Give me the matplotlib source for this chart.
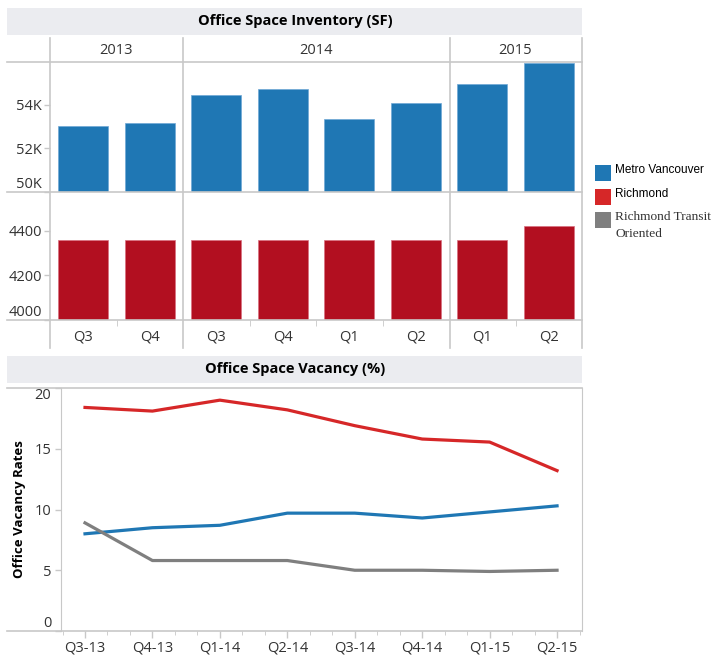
import matplotlib
matplotlib.use("Agg")
import matplotlib.pyplot as plt
from matplotlib.lines import Line2D
from matplotlib.patches import Rectangle

# data
quarters = ["Q3", "Q4", "Q3", "Q4", "Q1", "Q2", "Q1", "Q2"]
years = ["2013", "2014", "2015"]
year_sizes = [2, 4, 2]
metro_inventory = [53000, 53170, 54440, 54700, 53330, 54060, 54940, 55900]
richmond_inventory = [4360, 4360, 4360, 4360, 4360, 4360, 4360, 4420]

periods = ["Q3-13", "Q4-13", "Q1-14", "Q2-14", "Q3-14", "Q4-14", "Q1-15", "Q2-15"]
metro_vacancy = [8.0, 8.5, 8.7, 9.7, 9.7, 9.3, 9.8, 10.3]
richmond_vacancy = [18.4, 18.1, 19.0, 18.2, 16.9, 15.8, 15.55, 13.2]
transit_vacancy = [8.9, 5.8, 5.8, 5.8, 5.0, 5.0, 4.9, 5.0]

BLUE = "#1f77b4"
RED_BAR = "#b20f20"
RED = "#d62728"
GRAY = "#7f7f7f"
LINE = "#c8c8c8"
TXT = "#333333"
BAND = "#ebecf0"

W, H = 714, 658
plt.rcParams["font.family"] = ["Open Sans", "DejaVu Sans"]
fig = plt.figure(figsize=(W / 100, H / 100), dpi=100)


def rect(x0, y0, x1, y1):
    return [x0 / W, 1 - y1 / H, (x1 - x0) / W, (y1 - y0) / H]


def hline(y, x0, x1):
    fig.add_artist(Line2D([x0 / W, x1 / W], [1 - y / H, 1 - y / H], color=LINE, lw=1.2))


def vline(x, y0, y1):
    fig.add_artist(Line2D([x / W, x / W], [1 - y0 / H, 1 - y1 / H], color=LINE, lw=1.2))


def band(y0, y1, title):
    fig.add_artist(Rectangle((7 / W, 1 - y1 / H), 575 / W, (y1 - y0) / H,
                             transform=fig.transFigure, color=BAND, lw=0))
    fig.text(295 / W, 1 - (y0 + y1) / 2 / H, title, ha="center", va="center",
             fontsize=10.5, fontweight="bold", color="black")


def style(ax):
    for s in ax.spines.values():
        s.set_visible(False)
    ax.tick_params(colors=LINE, labelcolor=TXT, labelsize=10.5, width=1)


# ---------- inventory panel ----------
band(8, 35, "Office Space Inventory (SF)")
xs = list(range(len(quarters)))

ax1 = fig.add_axes(rect(50, 62, 582, 192))
ax1.bar(xs, metro_inventory, width=0.75, color=BLUE, edgecolor="#6fa8d6", lw=0.5)
ax1.set_ylim(50000, 55950)
ax1.set_xlim(-0.5, 7.5)
ax1.set_yticks([50000, 52000, 54000])
ax1.set_yticklabels(["50K", "52K", "54K"])
ax1.set_xticks([])
style(ax1)
ax1.tick_params(axis="y", length=4, pad=2)
ax1.get_yticklabels()[0].set_va("bottom")

ax2 = fig.add_axes(rect(50, 192, 582, 320))
ax2.bar(xs, richmond_inventory, width=0.75, color=RED_BAR, edgecolor="#d87080", lw=0.5)
ax2.set_ylim(4000, 4573)
ax2.set_xlim(-0.5, 7.5)
ax2.set_yticks([4000, 4200, 4400])
ax2.set_xticks(xs)
ax2.set_xticklabels(quarters)
ax2.set_xticks([0.5, 2.5, 3.5, 4.5, 6.5], minor=True)
style(ax2)
ax2.tick_params(axis="y", length=4, pad=2)
ax2.tick_params(axis="x", which="major", length=0, pad=7)
ax2.tick_params(axis="x", which="minor", length=4, color=LINE)
ax2.get_yticklabels()[0].set_va("bottom")

for y in (62, 192, 320):
    hline(y, 7, 582)
for x in (50, 183, 450, 582):
    vline(x, 38, 348)
cx = 50
for yr, n in zip(years, year_sizes):
    fig.text((cx + n * 66.5 / 2) / W, 1 - 50 / H, yr, ha="center", va="center",
             fontsize=10.5, color=TXT)
    cx += n * 66.5

# ---------- vacancy panel ----------
band(356, 383, "Office Space Vacancy (%)")
ax3 = fig.add_axes(rect(61, 388, 582, 631))
px = list(range(len(periods)))
ax3.plot(px, richmond_vacancy, color=RED, lw=2.3)
ax3.plot(px, metro_vacancy, color=BLUE, lw=2.3)
ax3.plot(px, transit_vacancy, color=GRAY, lw=2.3)
ax3.set_xlim(-0.356, 7.37)
ax3.set_ylim(0, 20)
ax3.set_yticks([0, 5, 10, 15, 20])
ax3.set_xticks(px)
ax3.set_xticklabels(periods)
ax3.set_xticks([i / 3 for i in range(-1, 23) if i % 3 != 0], minor=True)
style(ax3)
ax3.spines["left"].set_visible(True)
ax3.spines["left"].set_color(LINE)
ax3.spines["right"].set_visible(True)
ax3.spines["right"].set_color(LINE)
ax3.tick_params(axis="y", length=4, pad=3)
ax3.tick_params(axis="x", which="major", length=5, pad=2)
ax3.tick_params(axis="x", which="minor", length=3, color=LINE)
labs = ax3.get_yticklabels()
labs[0].set_va("bottom")
labs[-1].set_va("top")
ax3.set_ylabel("Office Vacancy Rates", fontsize=9.5, fontweight="bold", color="black", labelpad=6)
hline(388, 7, 582)
hline(631, 7, 582)

# ---------- legend ----------
legend_items = [
    (BLUE, "Metro Vancouver", 165, "Liberation Sans", 8.5, "black"),
    (RED, "Richmond", 189, "Liberation Sans", 8.5, "black"),
    (GRAY, "Richmond Transit\nOriented", 212, "Liberation Serif", 9.6, TXT),
]
for col, name, y, fam, fs, tc in legend_items:
    fig.add_artist(Rectangle((595 / W, 1 - (y + 16) / H), 16 / W, 16 / H,
                             transform=fig.transFigure, color=col, lw=0))
    fig.text(615 / W, 1 - (y - 1) / H, name, ha="left", va="top", fontsize=fs,
             family=fam, color=tc, linespacing=1.55)

plt.savefig("out.png", dpi=100)
